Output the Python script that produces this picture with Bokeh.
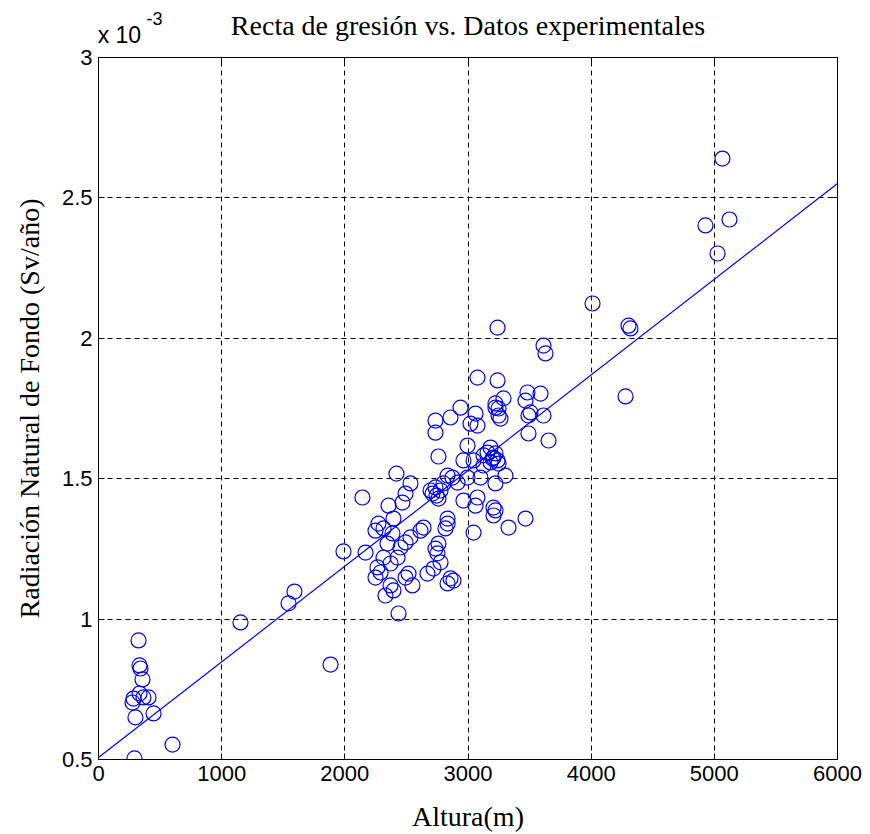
from bokeh.plotting import figure
from bokeh.models import Range1d, FixedTicker, LinearAxis, ColumnDataSource
from bokeh.embed import file_html
from bokeh.resources import INLINE

# ---- data (altura in m, radiacion in units of 1e-3 Sv/año) ----
altura = [
    325, 333, 341, 357, 333, 284, 276, 365, 406, 300, 447, 601, 292,
    1153, 1543, 1591, 1884, 1989, 2143,
    2760, 2419, 2533, 2493, 2468, 2355, 2712, 2736, 2760, 2834, 2915,
    2273, 2249, 2314, 2395, 2387, 2639, 2614, 2834, 2834, 2817, 2533,
    2493, 2452, 2346, 2168, 2314, 2265, 2290, 2249, 2371, 2428, 2760,
    2736, 2752, 2777, 2720, 2671, 2517, 2493, 2549, 2371, 2330, 2395,
    2834, 2858, 2882, 2436, 2696, 2777, 2744,
    2939, 3061, 2858, 3077, 3248, 3223, 3491, 3613, 3491, 3654, 2996,
    3183, 3126, 3199, 3223, 3045, 2963, 3126, 3248, 2874, 2996, 3101,
    3304, 3223, 2801, 2963, 3077, 3061, 3207, 3223, 3207, 3467, 3329,
    3045,
    3077, 3240, 3288, 3223, 3248, 3264, 3483, 3589, 3467, 3507, 2736,
    2736, 3020, 3158, 3207, 3240, 3183, 3240, 3613, 3629,
    4011, 4303, 4319, 4279, 4928, 5026, 5066, 5123,
]
radiacion = [
    0.924, 0.835, 0.824, 0.785, 0.735, 0.717, 0.703, 0.721, 0.721, 0.650, 0.664, 0.553, 0.504,
    0.988, 1.056, 1.098, 0.838, 1.241, 1.433,
    1.579, 1.518, 1.483, 1.447, 1.415, 1.404, 1.447, 1.469, 1.429, 1.511, 1.486,
    1.340, 1.315, 1.323, 1.358, 1.305, 1.326, 1.315, 1.358, 1.340, 1.323, 1.291,
    1.273, 1.255, 1.269, 1.237, 1.219, 1.184, 1.166, 1.148, 1.198, 1.219, 1.269,
    1.251, 1.234, 1.202, 1.180, 1.162, 1.162, 1.148, 1.120, 1.120, 1.084, 1.102,
    1.127, 1.145, 1.137, 1.020, 1.458, 1.458, 1.440,
    1.753, 1.732, 1.718, 1.689, 1.725, 1.753, 1.725, 1.725, 1.661, 1.636, 1.618,
    1.611, 1.583, 1.572, 1.590, 1.565, 1.565, 1.547, 1.554, 1.504, 1.504, 1.504,
    1.511, 1.483, 1.483, 1.422, 1.433, 1.404, 1.397, 1.387, 1.369, 1.358, 1.326,
    1.308,
    1.860, 1.850, 1.786, 1.768, 1.750, 1.714, 1.807, 1.803, 1.778, 1.736, 1.707,
    1.664, 1.696, 1.593, 1.575, 1.565, 1.558, 2.038, 1.974, 1.946,
    2.124, 2.045, 2.035, 1.793, 2.402, 2.302, 2.640, 2.423,
]
recta_x = [0, 6000]
recta_y = [0.507, 2.551]

x_ticks = [0, 1000, 2000, 3000, 4000, 5000, 6000]
y_ticks = [0.5, 1, 1.5, 2, 2.5, 3]
y_tick_labels = ["0.5", "1", "1.5", "2", "2.5", "3"]

titulo = "Recta de gresión vs. Datos experimentales"
x_label = "Altura(m)"
y_label = "Radiación Natural de Fondo (Sv/año)"
escala = "x 10"
exponente = "-3"

SERIF = "Liberation Serif"
SANS = "Liberation Sans"
FRAME_W, FRAME_H = 739, 702

p = figure(frame_width=FRAME_W, frame_height=FRAME_H,
           x_range=Range1d(0, 6000), y_range=Range1d(0.5, 3),
           output_backend="svg", toolbar_location=None,
           min_border_left=98, min_border_right=25,
           min_border_top=57, min_border_bottom=70,
           background_fill_color="white", border_fill_color="white")

p.outline_line_color = "black"
p.outline_line_width = 1
p.outline_line_alpha = 1

src = ColumnDataSource(dict(x=altura, y=radiacion))
p.scatter("x", "y", source=src, marker="circle", size=15,
          fill_color=None, line_color="#0000ff", line_width=1.2)
p.line(recta_x, recta_y, line_color="#0000ff", line_width=1.2)

overrides = {t: l for t, l in zip(y_ticks, y_tick_labels)}

for ax in p.xaxis:
    ax.ticker = FixedTicker(ticks=x_ticks)
for ax in p.yaxis:
    ax.ticker = FixedTicker(ticks=y_ticks)
    ax.major_label_overrides = overrides

for ax in list(p.xaxis) + list(p.yaxis):
    ax.axis_line_color = None
    ax.major_tick_in = 6
    ax.major_tick_out = 0
    ax.minor_tick_line_color = None
    ax.major_tick_line_color = "black"
    ax.major_label_text_font = SANS
    ax.major_label_text_font_size = "22px"
    ax.major_label_text_color = "black"
    ax.major_label_standoff = 6
    ax.axis_label_text_font = SERIF
    ax.axis_label_text_font_style = "normal"
    ax.axis_label_text_color = "black"

p.xaxis.axis_label = x_label
p.xaxis.axis_label_text_font_size = "28px"
p.xaxis.axis_label_standoff = 17
p.yaxis.axis_label = y_label
p.yaxis.axis_label_text_font_size = "28px"
p.yaxis.axis_label_standoff = 14

# tick marks on the top and right edges (box), no labels
for side, tick in (("above", x_ticks), ("right", y_ticks)):
    extra = LinearAxis()
    extra.ticker = FixedTicker(ticks=tick)
    extra.major_label_overrides = {t: "" for t in tick}
    extra.major_label_text_font_size = "1px"
    extra.axis_line_color = None
    extra.major_tick_in = 6
    extra.major_tick_out = 0
    extra.minor_tick_line_color = None
    extra.major_tick_line_color = "black"
    extra.major_label_standoff = 0
    p.add_layout(extra, side)

# multiplier "x 10^-3" and the title, placed in the top panel
pos_escala = 170
pos_exponente = 455

ax_esc = LinearAxis(ticker=FixedTicker(ticks=[pos_escala]),
                    major_label_overrides={pos_escala: escala})
ax_exp = LinearAxis(ticker=FixedTicker(ticks=[pos_exponente]),
                    major_label_overrides={pos_exponente: exponente})
for a in (ax_esc, ax_exp):
    a.axis_line_color = None
    a.major_tick_line_color = None
    a.minor_tick_line_color = None
    a.major_tick_in = 0
    a.major_tick_out = 0
    a.major_label_text_font = SANS
    a.major_label_text_color = "black"
ax_esc.major_label_text_font_size = "23px"
ax_esc.major_label_standoff = 10
ax_exp.major_label_text_font_size = "18px"
ax_exp.major_label_standoff = -6
ax_exp.axis_label = titulo
ax_exp.axis_label_text_font = SERIF
ax_exp.axis_label_text_font_size = "28px"
ax_exp.axis_label_text_font_style = "normal"
ax_exp.axis_label_text_color = "black"
ax_exp.axis_label_standoff = -32
p.add_layout(ax_esc, "above")
p.add_layout(ax_exp, "above")

for g in (p.xgrid, p.ygrid):
    g.grid_line_color = "black"
    g.grid_line_dash = "5 4"
    g.grid_line_width = 1
    g.grid_line_alpha = 1
p.xgrid.ticker = FixedTicker(ticks=x_ticks)
p.ygrid.ticker = FixedTicker(ticks=y_ticks)

open("out.html", "w").write(file_html(p, INLINE))
